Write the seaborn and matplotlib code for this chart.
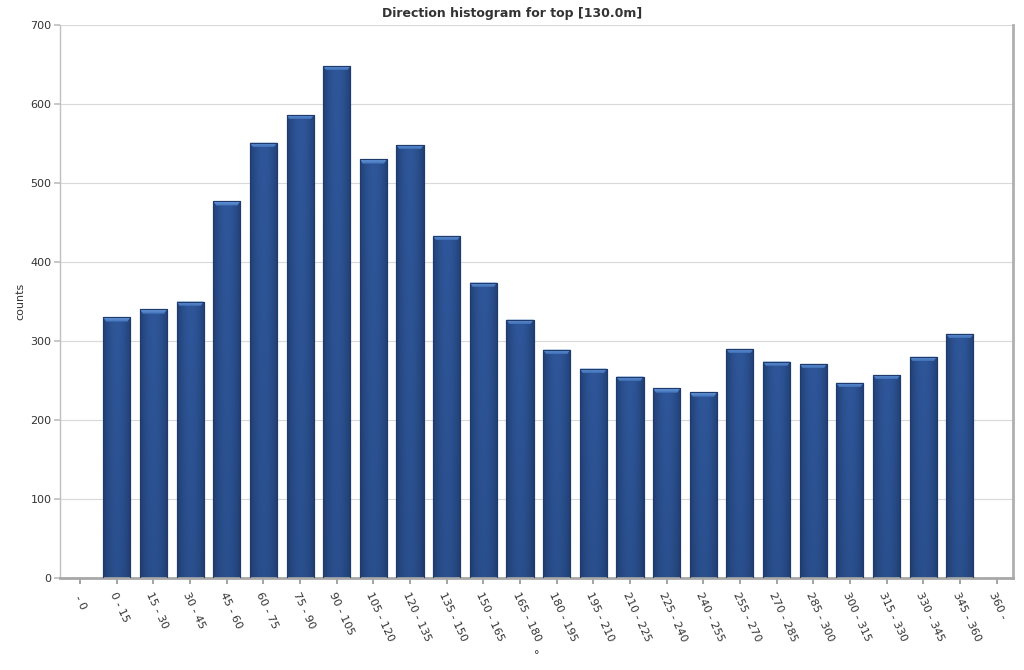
import numpy as np
import pandas as pd
import matplotlib
matplotlib.use("Agg")
import matplotlib.pyplot as plt
import seaborn as sns

categories = [" - 0", "0 - 15", "15 - 30", "30 - 45", "45 - 60", "60 - 75", "75 - 90",
              "90 - 105", "105 - 120", "120 - 135", "135 - 150", "150 - 165",
              "165 - 180", "180 - 195", "195 - 210", "210 - 225", "225 - 240",
              "240 - 255", "255 - 270", "270 - 285", "285 - 300", "300 - 315",
              "315 - 330", "330 - 345", "345 - 360", "360 - "]
counts = [0, 330, 340, 350, 477, 551, 586, 648, 530, 548, 433, 374, 327, 289,
          265, 255, 240, 235, 290, 274, 271, 247, 257, 280, 309, 0]
yticks = [0, 100, 200, 300, 400, 500, 600, 700]

sns.set_theme(style="white")
plt.rcParams['font.family'] = ['DejaVu Sans']

df = pd.DataFrame({"cat": categories, "count": counts})

fig = plt.figure(figsize=(10.24, 6.70), dpi=100)
ax = fig.add_axes([60 / 1024, 1 - 578 / 670, (1013 - 60) / 1024, (578 - 25) / 670])

sns.barplot(data=df, x="cat", y="count", order=categories, color="#264a85",
            width=0.74, saturation=1, ax=ax, edgecolor="#1f3b6b", linewidth=0.8)

# gradient fill + top highlight derived from the bar patches
grad = np.linspace(0, 1, 64)
hgrad = 1 - 0.5 * (2 * np.abs(grad - 0.5)) ** 2
cmap = matplotlib.colors.LinearSegmentedColormap.from_list("b", ["#1c3664", "#2e5699"])
capcmap = matplotlib.colors.LinearSegmentedColormap.from_list("c", ["#3f6fb5", "#6a9be0"])
for p in list(ax.patches):
    h = p.get_height()
    if h <= 0:
        continue
    x0, w = p.get_x(), p.get_width()
    vert = np.linspace(0.85, 1.0, 64)[::-1][:, None]
    img = np.outer(vert, hgrad)
    im = ax.imshow(img, cmap=cmap, vmin=0.3, vmax=1.0, aspect="auto",
                   extent=(x0, x0 + w, 0, h), zorder=2.5, interpolation="bilinear")
    im.set_clip_path(p)
    cap_h = 5.5
    cap = matplotlib.patches.Polygon([(x0, h), (x0 + w, h), (x0 + w - 0.08, h - cap_h),
                                      (x0 + 0.08, h - cap_h)], closed=True,
                                     facecolor="none", edgecolor="none")
    ax.add_patch(cap)
    cimg = np.linspace(1, 0, 16)[:, None] * np.ones((1, 16))
    cim = ax.imshow(cimg, cmap=capcmap, vmin=0, vmax=1, aspect="auto",
                    extent=(x0, x0 + w, h - cap_h, h), zorder=3, interpolation="bilinear")
    cim.set_clip_path(cap)
    ax.add_patch(matplotlib.patches.Rectangle((x0, 0), w, h, facecolor="none",
                                              edgecolor="#1f3b6b", linewidth=0.8,
                                              zorder=3.5))

ax.set_xlim(-0.55, len(categories) - 0.55)
ax.set_ylim(0, 700)
ax.set_yticks(yticks)
ax.set_yticklabels([str(v) for v in yticks], fontsize=8, color="#333333")
ax.yaxis.grid(True, color="#d9d9d9", linewidth=0.8)
ax.set_axisbelow(True)

ax.set_xticks(range(len(categories)))
ax.set_xticklabels(categories, rotation=-65, ha="left", va="top",
                   rotation_mode="anchor", fontsize=8, color="#333333")
ax.tick_params(axis="x", which="both", length=4, color="#999999", bottom=True,
               pad=5)
ax.tick_params(axis="y", which="both", length=4, color="#c0c0c0", left=True, pad=2)

ax.spines["top"].set_visible(False)
ax.spines["left"].set_color("#c0c0c0")
ax.spines["left"].set_linewidth(1.0)
ax.spines["right"].set_color("#b0b0b0")
ax.spines["right"].set_linewidth(2.0)
ax.spines["bottom"].set_color("#a8a8a8")
ax.spines["bottom"].set_linewidth(2.0)

ax.set_xlabel("°", fontsize=8, color="#333333")
ax.xaxis.set_label_coords(0.5, -0.13)
ax.set_ylabel("counts", fontsize=8, color="#333333", labelpad=4)

fig.text(0.5, 1 - 13 / 670, "Direction histogram for top [130.0m]", ha="center",
         va="center", fontsize=9, fontweight="bold", color="#333333")

fig.savefig("out.png", dpi=100, facecolor="white")
